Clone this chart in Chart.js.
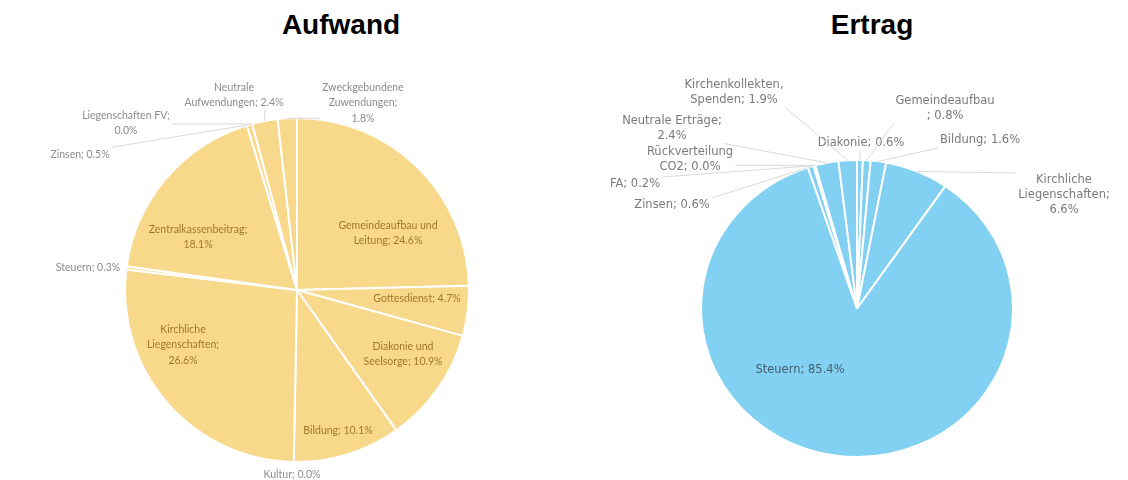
<!DOCTYPE html>
<html>
<head>
<title>Aufwand / Ertrag</title>
<script src="https://cdn.jsdelivr.net/npm/chart.js"></script>
<style>
  body { margin: 0; background: #fff; }
  #wrap { position: relative; width: 1128px; height: 480px; overflow: hidden; }
  .title { position: absolute; top: 11px; font: bold 28px "Liberation Sans", Arial, sans-serif; line-height: 28px; color: #000; transform: translateX(-50%); white-space: nowrap; }
  .box { position: absolute; top: 0; height: 480px; }
</style>
</head>
<body>
<div id="wrap">
  <div class="title" style="left:341px">Aufwand</div>
  <div class="title" style="left:872px">Ertrag</div>
  <div class="box" style="left:0;width:594px"><canvas id="aufwandChart"></canvas></div>
  <div class="box" style="left:586px;width:542px"><canvas id="ertragChart"></canvas></div>
</div>
<script>
const aufwandLabels = ['Gemeindeaufbau und Leitung', 'Gottesdienst', 'Diakonie und Seelsorge', 'Bildung', 'Kultur',
  'Kirchliche Liegenschaften', 'Steuern', 'Zentralkassenbeitrag', 'Zinsen', 'Liegenschaften FV',
  'Neutrale Aufwendungen', 'Zweckgebundene Zuwendungen'];
const aufwandValues = [24.6, 4.7, 10.9, 10.1, 0.0, 26.6, 0.3, 18.1, 0.5, 0.0, 2.4, 1.8];

const ertragLabels = ['Diakonie', 'Gemeindeaufbau ', 'Bildung', 'Kirchliche Liegenschaften', 'Steuern',
  'Zinsen', 'FA', 'Rückverteilung CO2', 'Neutrale Erträge', 'Kirchenkollekten, Spenden'];
const ertragValues = [0.6, 0.8, 1.6, 6.6, 85.4, 0.6, 0.2, 0.0, 2.4, 1.9];

// where each label sits, relative to the pie centre: [dx, dy, wrap width, inside slice]
const aufwandLabelPos = [
  [91, -57, 110, 1], [120, 9, 999, 1], [106, 64, 90, 1], [41, 141, 999, 1], [-5, 185, 999, 0],
  [-114, 55, 10, 1], [-209, -22, 999, 0], [-99, -53, 10, 1], [-217, -135, 999, 0],
  [-171, -167, 95, 0], [-63, -195, 110, 0], [66, -187, 10, 0]
];
const ertragLabelPos = [
  [4, -165, 999, 0], [88, -200, 101, 0], [123, -168, 999, 0], [207, -113, 10, 0], [-57, 62, 999, 1],
  [-185, -103, 999, 0], [-222, -124, 999, 0], [-167, -149, 90, 0], [-185, -180, 105, 0], [-123, -216, 105, 0]
];

function wrapText(ctx, str, maxW) {
  const words = str.split(/\s+/).filter(Boolean);
  const lines = [];
  let cur = '';
  words.forEach(w => {
    const t = cur ? cur + ' ' + w : w;
    if (cur && ctx.measureText(t).width > maxW) { lines.push(cur); cur = w; }
    else cur = t;
  });
  if (cur) lines.push(cur);
  return lines;
}

const sliceLabels = {
  id: 'sliceLabels',
  beforeDatasetsDraw(chart, args, o) {
    if (!o.squeeze) return;
    const a = chart.getDatasetMeta(0).data[0];
    const ctx = chart.ctx;
    ctx.save();
    ctx.translate(a.x, a.y);
    ctx.scale(1, o.squeeze);
    ctx.translate(-a.x, -a.y);
  },
  afterDatasetsDraw(chart, args, o) {
    if (o.squeeze) chart.ctx.restore();
  },
  afterDraw(chart, args, o) {
    const ctx = chart.ctx;
    const values = chart.data.datasets[0].data;
    const sy = o.squeeze || 1;
    ctx.save();
    ctx.font = o.font;
    ctx.textAlign = 'center';
    ctx.textBaseline = 'middle';
    chart.getDatasetMeta(0).data.forEach((arc, i) => {
      const [dx, dy, wrap, inside] = o.pos[i];
      const lines = wrapText(ctx, chart.data.labels[i] + '; ' + values[i].toFixed(1) + '%', wrap);
      const x = arc.x + dx, y = arc.y + dy;
      const w = Math.max(...lines.map(l => ctx.measureText(l).width));
      const h = lines.length * o.lineHeight;
      if (!inside) {
        const mid = (arc.startAngle + arc.endAngle) / 2;
        const px = arc.x + Math.cos(mid) * arc.outerRadius;
        const py = arc.y + Math.sin(mid) * arc.outerRadius * sy;
        const qx = Math.min(Math.max(px, x - w / 2 - 2), x + w / 2 + 2);
        const qy = Math.min(Math.max(py, y - h / 2), y + h / 2);
        if (Math.hypot(px - qx, py - qy) > 8) {
          ctx.strokeStyle = o.leaderColor;
          ctx.lineWidth = 1;
          ctx.beginPath();
          ctx.moveTo(qx, qy);
          ctx.lineTo(px, py);
          ctx.stroke();
        }
      }
      ctx.fillStyle = inside ? o.insideColor : o.outsideColor;
      lines.forEach((l, k) => {
        ctx.fillText(l, x, y - h / 2 + o.lineHeight * (k + 0.5));
      });
    });
    ctx.restore();
  }
};

function pie(id, labels, values, color, radius, padTop, labelOpts) {
  return new Chart(document.getElementById(id), {
    type: 'pie',
    data: {
      labels: labels,
      datasets: [{
        data: values,
        backgroundColor: color,
        borderColor: '#ffffff',
        borderWidth: 2
      }]
    },
    options: {
      responsive: true,
      maintainAspectRatio: false,
      animation: false,
      radius: radius,
      layout: { padding: { top: padTop, bottom: 0, left: 0, right: 0 } },
      plugins: {
        legend: { display: false },
        tooltip: { enabled: false },
        sliceLabels: labelOpts
      }
    },
    plugins: [sliceLabels]
  });
}

pie('aufwandChart', aufwandLabels, aufwandValues, '#F8D98B', 172, 100, {
  pos: aufwandLabelPos,
  font: '10.5px Lato',
  lineHeight: 15.5,
  insideColor: '#9c7a2b',
  outsideColor: '#8c8c8c',
  leaderColor: '#d9d9d9'
});

pie('ertragChart', ertragLabels, ertragValues, '#82D0F2', 156, 137, {
  pos: ertragLabelPos,
  font: '11.5px "DejaVu Sans"',
  lineHeight: 15,
  squeeze: 0.952,
  insideColor: '#46606e',
  outsideColor: '#7a7a7a',
  leaderColor: '#d9d9d9'
});
</script>
</body>
</html>
